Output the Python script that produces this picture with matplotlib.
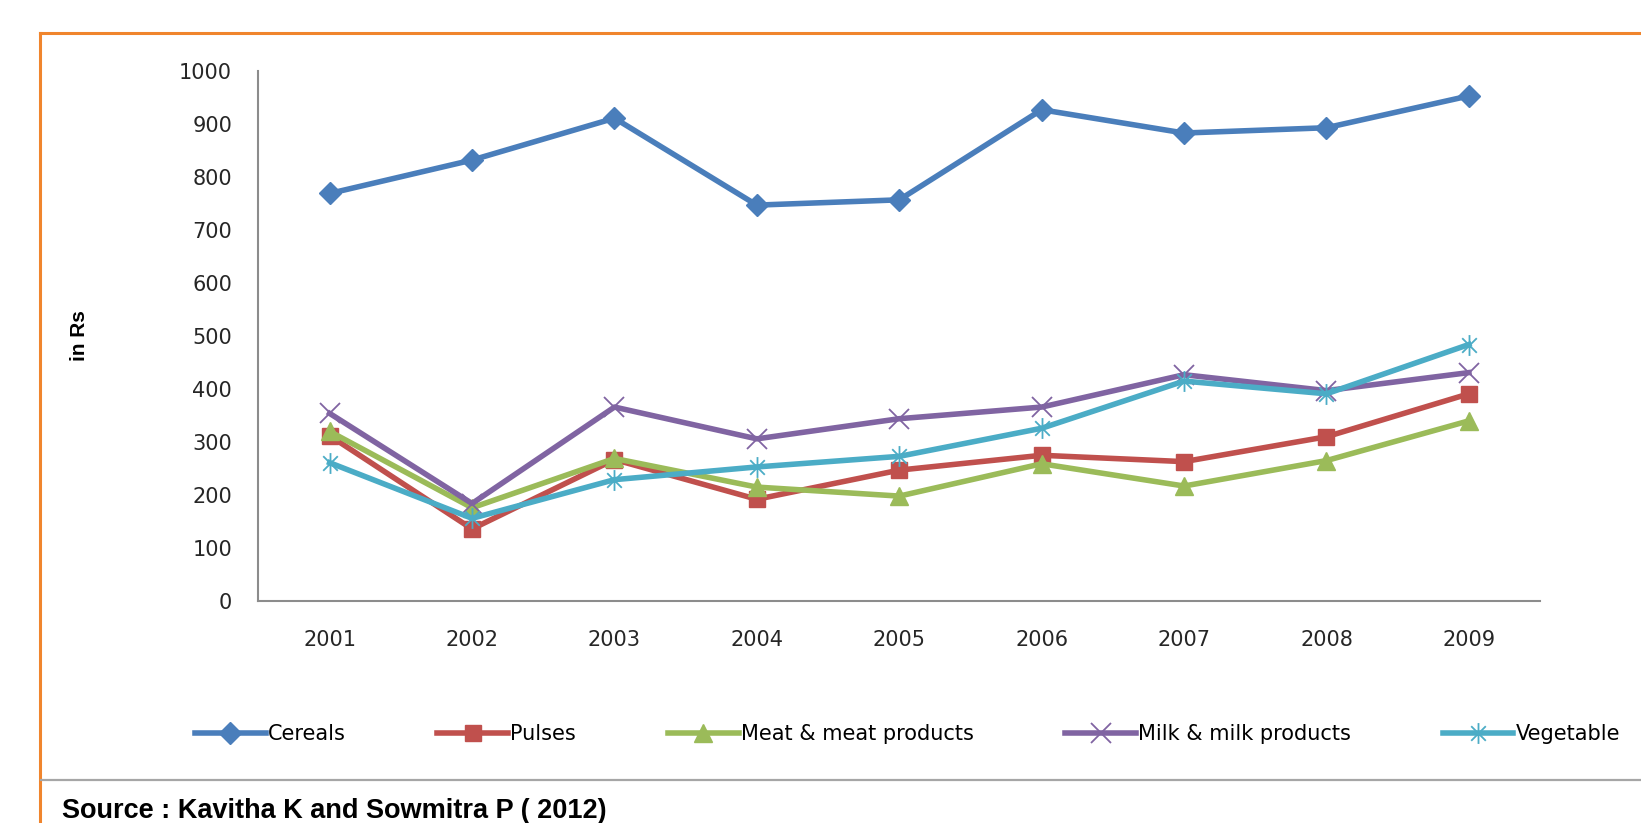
import numpy as np
import matplotlib
matplotlib.use('Agg')
import matplotlib.pyplot as plt
from matplotlib.lines import Line2D
from matplotlib.path import Path

# --- data ---
years = ['2001', '2002', '2003', '2004', '2005', '2006', '2007', '2008', '2009']
cereals = [769, 832, 911, 747, 757, 927, 883, 893, 953]
pulses = [312, 136, 267, 192, 247, 275, 263, 310, 391]
meat = [320, 176, 269, 215, 198, 259, 217, 265, 340]
milk = [354, 184, 366, 306, 344, 366, 427, 397, 431]
vegetable = [261, 156, 229, 253, 273, 326, 415, 391, 484]

labels = ['Cereals', 'Pulses', 'Meat & meat products', 'Milk & milk products', 'Vegetable']

# --- style ---
BLUE = "#4A7EBB"
RED = "#C0504D"
GREEN = "#9BBB59"
PURPLE = "#8064A2"
CYAN = "#4BACC6"
ORANGE = "#F0852D"
AXIS_GREY = "#8C8C8C"

# Excel-like star: x with a vertical bar
star = Path([(0, -1), (0, 1), (-0.7, -0.7), (0.7, 0.7), (-0.7, 0.7), (0.7, -0.7)],
            [Path.MOVETO, Path.LINETO, Path.MOVETO, Path.LINETO, Path.MOVETO, Path.LINETO])

plt.rcParams['font.family'] = ['DejaVu Sans']

fig = plt.figure(figsize=(16.41, 8.23), dpi=100)
ax = fig.add_axes([0.1575, 0.2697, 0.9385 - 0.1575, 0.9137 - 0.2697])

x = np.arange(1, len(years) + 1)
LW = 4
ax.plot(x, cereals, color=BLUE, lw=LW, marker='D', ms=11, label=labels[0])
ax.plot(x, pulses, color=RED, lw=LW, marker='s', ms=12, label=labels[1])
ax.plot(x, meat, color=GREEN, lw=LW, marker='^', ms=13, label=labels[2])
ax.plot(x, milk, color=PURPLE, lw=LW, marker='x', ms=15, mew=1.3, label=labels[3])
ax.plot(x, vegetable, color=CYAN, lw=LW, marker=star, ms=15, mew=1.3,
        mfc='none', label=labels[4])

ax.set_xlim(0.5, len(years) + 0.5)
ax.set_ylim(0, 1000)
ax.set_yticks(np.arange(0, 1001, 100))
ax.set_xticks(x)
ax.set_xticklabels(years)
ax.tick_params(length=0, labelsize=15, colors='#262626')
ax.tick_params(axis='x', pad=21)
ax.tick_params(axis='y', pad=19)

for s in ['top', 'right']:
    ax.spines[s].set_visible(False)
for s in ['left', 'bottom']:
    ax.spines[s].set_color(AXIS_GREY)
    ax.spines[s].set_linewidth(1.5)

ax.set_ylabel('in Rs', fontsize=15, fontweight='bold', family=['Liberation Sans', 'DejaVu Sans'])
ax.yaxis.set_label_coords(-0.132, 0.5)

fig.legend(loc='center', bbox_to_anchor=(0.553, 0.108), ncol=5, frameon=False,
           fontsize=15, handlelength=3.4, handletextpad=0.1, columnspacing=4.4)

# orange frame (cut off on the right and bottom)
fig.add_artist(Line2D([40 / 1641, 40 / 1641], [0, 1 - 33 / 823], color=ORANGE, lw=2.2))
fig.add_artist(Line2D([40 / 1641, 1], [1 - 33 / 823, 1 - 33 / 823], color=ORANGE, lw=2.2))
# grey separator above source
fig.add_artist(Line2D([41 / 1641, 1], [1 - 780 / 823, 1 - 780 / 823], color='#A6A6A6', lw=1.6))

fig.text(62 / 1641, 1 - 811 / 823, 'Source : Kavitha K and Sowmitra P ( 2012)', fontsize=19.5,
         fontweight='bold', va='center', ha='left',
         family=['Liberation Sans Narrow', 'Liberation Sans', 'DejaVu Sans'])

fig.savefig('out.png', dpi=100, facecolor='white')
